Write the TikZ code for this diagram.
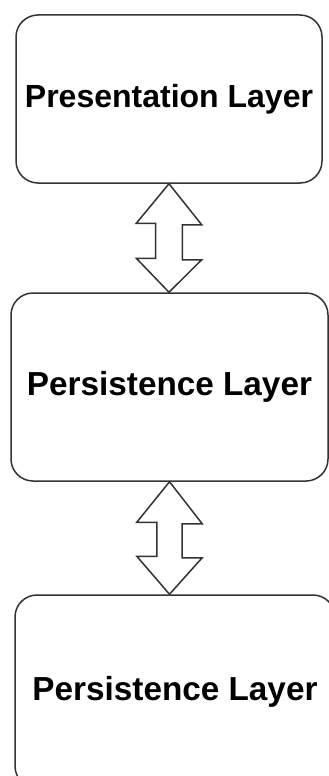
\documentclass[tikz,border=0pt]{standalone}
\usepackage{fontspec}
\setmainfont{Liberation Sans}
\usetikzlibrary{calc}
\definecolor{edge}{HTML}{333333}
\tikzset{
  layerbox/.style={draw=edge, line width=1.5pt, rounded corners=22pt, fill=white,
    inner sep=0pt, font=\bfseries\fontsize{32}{38}\selectfont, text=black},
  dblarrow/.style={draw=edge, line width=1.5pt, fill=white, line join=miter},
}
\begin{document}
\begin{tikzpicture}[x=1pt,y=-1pt]
\clip (0,0) rectangle (329,776);
\fill[white] (0,0) rectangle (329,776);
\node[layerbox, minimum width=306pt, minimum height=168pt] (b1) at (169,99) {Presentation Layer};
\node[layerbox, minimum width=317pt, minimum height=188pt, font=\bfseries\fontsize{33.3}{38}\selectfont] (b2) at (169.5,387) {Persistence Layer};
\node[layerbox, minimum width=320pt, minimum height=193pt, font=\bfseries\fontsize{33.3}{38}\selectfont] (b3) at (175,691.5) {Persistence Layer};
\draw[dblarrow] (b1.south) -- ++(32.7,41) -- ++(-19.4,0) -- ++(0,35) -- ++(19.4,0)
  -- (b1.south |- b2.north) -- ++(-32.7,-34) -- ++(19.4,0) -- ++(0,-35) -- ++(-19.4,0) -- cycle;
\draw[dblarrow] (b2.south) -- ++(32.7,42) -- ++(-20,0) -- ++(0,34) -- ++(20,0)
  -- (b2.south |- b3.north) -- ++(-32.7,-38) -- ++(20,0) -- ++(0,-34) -- ++(-20,0) -- cycle;
\end{tikzpicture}
\end{document}
